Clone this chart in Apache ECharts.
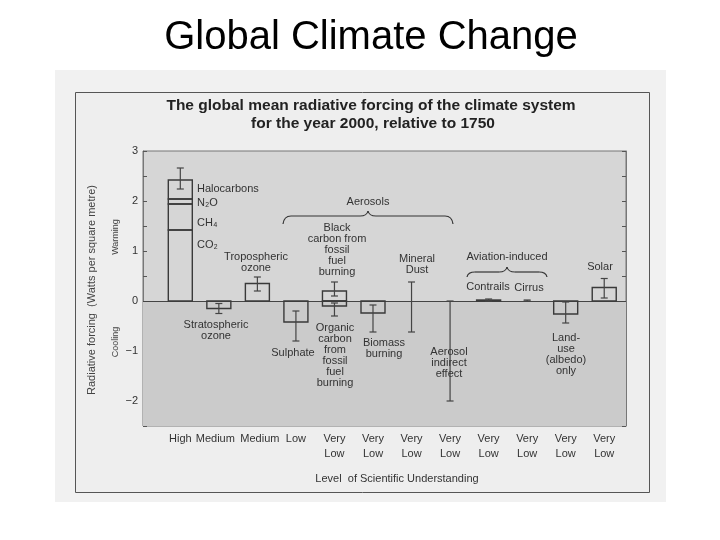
<!DOCTYPE html>
<html><head><meta charset="utf-8">
<script src="https://cdn.jsdelivr.net/npm/echarts@6/dist/echarts.min.js"></script>
<style>html,body{margin:0;padding:0;background:#fff}#c{width:720px;height:540px}</style>
</head><body><div id="c"></div>
<script>
// ---- data ----
const slots = ['Greenhouse gases','Stratospheric ozone','Tropospheric ozone','Sulphate','Fossil fuel carbon','Biomass burning','Mineral dust','Aerosol indirect effect','Contrails','Cirrus','Land-use','Solar'];
const levels = ['High','Medium','Medium','Low','Very\nLow','Very\nLow','Very\nLow','Very\nLow','Very\nLow','Very\nLow','Very\nLow','Very\nLow'];
const ghgNames = ['CO₂','CH₄','N₂O','Halocarbons'];
const ghgValues = [1.42, 0.52, 0.10, 0.38];
const barSlots = [1, 2, 3, 4, 4, 5, 8, 10, 11];
const barNames = ['Stratospheric ozone','Tropospheric ozone','Sulphate','Black carbon','Organic carbon','Biomass burning','Contrails','Land-use','Solar'];
const barValues = [-0.15, 0.35, -0.42, 0.20, -0.10, -0.24, 0.02, -0.26, 0.27];
const errSlots = [0, 1, 2, 3, 4, 4, 5, 6, 7, 8, 9, 10, 11];
const errLow  = [2.24, -0.25, 0.20, -0.80, 0.10, -0.30, -0.62, -0.62, -2.00, 0.00, 0.00, -0.44, 0.06];
const errHigh = [2.66, -0.05, 0.48, -0.20, 0.38, -0.04, -0.08, 0.38, 0.00, 0.04, 0.02, -0.02, 0.45];

// ---- build ----
let cum = 0;
const ghgData = ghgValues.map((v, k) => { const a = cum; cum += v; return { name: ghgNames[k], value: [0, a, cum] }; });
const barData = barValues.map((v, k) => ({ name: barNames[k], value: [barSlots[k], 0, v] }));
const errData = errSlots.map((s, k) => ({ name: slots[s], value: [s, errLow[k], errHigh[k]] }));

const BW = 24, INK = '#3a3a3a';
function rectItem(params, api) {
  const x = api.value(0);
  const p1 = api.coord([x, api.value(1)]), p2 = api.coord([x, api.value(2)]);
  return { type: 'rect', shape: { x: p1[0] - BW / 2, y: Math.min(p1[1], p2[1]), width: BW, height: Math.max(1, Math.abs(p1[1] - p2[1])) },
           style: { fill: 'none', stroke: INK, lineWidth: 1.4 } };
}
function errItem(params, api) {
  const x = api.value(0);
  const lo = api.coord([x, api.value(1)]), hi = api.coord([x, api.value(2)]);
  const c = 3.5, st = { stroke: '#444', lineWidth: 1.2 };
  return { type: 'group', children: [
    { type: 'line', shape: { x1: lo[0], y1: lo[1], x2: hi[0], y2: hi[1] }, style: st },
    { type: 'line', shape: { x1: lo[0] - c, y1: lo[1], x2: lo[0] + c, y2: lo[1] }, style: st },
    { type: 'line', shape: { x1: hi[0] - c, y1: hi[1], x2: hi[0] + c, y2: hi[1] }, style: st }
  ]};
}

const FONT = '"Liberation Sans", Arial, Helvetica, sans-serif';
function txt(x, y, text, opts) {
  opts = opts || {};
  return { type: 'text', x: x, y: y, z: 100, rotation: opts.rotation || 0,
    style: { text: text, fill: opts.fill || '#333', font: (opts.font || '11px') + ' ' + FONT,
             textAlign: opts.align || 'center', textVerticalAlign: 'middle', lineHeight: opts.lh || 11 } };
}
function brace(x1, xm, x2, yEnd, yBar, yTip) {
  const st = { fill: 'none', stroke: '#333', lineWidth: 1.2 };
  const r = 8;
  return { type: 'group', z: 100, children: [
    { type: 'bezierCurve', shape: { x1: x1, y1: yEnd, cpx1: x1 + 1, cpy1: yBar, x2: x1 + r, y2: yBar }, style: st },
    { type: 'line', shape: { x1: x1 + r, y1: yBar, x2: xm - r, y2: yBar }, style: st },
    { type: 'bezierCurve', shape: { x1: xm - r, y1: yBar, cpx1: xm - 1, cpy1: yBar, x2: xm, y2: yTip }, style: st },
    { type: 'bezierCurve', shape: { x1: xm, y1: yTip, cpx1: xm + 1, cpy1: yBar, x2: xm + r, y2: yBar }, style: st },
    { type: 'line', shape: { x1: xm + r, y1: yBar, x2: x2 - r, y2: yBar }, style: st },
    { type: 'bezierCurve', shape: { x1: x2 - r, y1: yBar, cpx1: x2 - 1, cpy1: yBar, x2: x2, y2: yEnd }, style: st }
  ]};
}
const annotations = [
  { type: 'rect', z: -10, shape: { x: 55, y: 70, width: 611, height: 432 }, style: { fill: '#f1f1f1' } },
  { type: 'rect', z: -9, shape: { x: 75.5, y: 92.5, width: 574, height: 400 }, style: { fill: '#eeeeee', stroke: '#555', lineWidth: 1 } },
  txt(371, 38, 'Global Climate Change', { font: '40px', fill: '#000' }),
  txt(371, 106, 'The global mean radiative forcing of the climate system', { font: 'bold 15.5px', fill: '#222' }),
  txt(373, 124, 'for the year 2000, relative to 1750', { font: 'bold 15.5px', fill: '#222' }),
  txt(92, 290, 'Radiative forcing  (Watts per square metre)', { rotation: Math.PI / 2, fill: '#444' }),
  txt(116, 237, 'Warming', { rotation: Math.PI / 2, font: '9px', fill: '#444' }),
  txt(116, 342, 'Cooling', { rotation: Math.PI / 2, font: '9px', fill: '#444' }),
  txt(397, 479, 'Level  of Scientific Understanding'),
  txt(197, 189, 'Halocarbons', { align: 'left' }),
  txt(197, 203, 'N₂O', { align: 'left' }),
  txt(197, 223, 'CH₄', { align: 'left' }),
  txt(197, 245, 'CO₂', { align: 'left' }),
  txt(256, 262, 'Tropospheric\nozone'),
  txt(368, 202, 'Aerosols'),
  txt(337, 250, 'Black\ncarbon from\nfossil\nfuel\nburning'),
  txt(417, 264, 'Mineral\nDust'),
  txt(507, 257, 'Aviation-induced'),
  txt(488, 287, 'Contrails'),
  txt(529, 288, 'Cirrus'),
  txt(600, 267, 'Solar'),
  txt(216, 330, 'Stratospheric\nozone'),
  txt(293, 353, 'Sulphate'),
  txt(335, 355, 'Organic\ncarbon\nfrom\nfossil\nfuel\nburning'),
  txt(384, 348, 'Biomass\nburning'),
  txt(449, 363, 'Aerosol\nindirect\neffect'),
  txt(566, 354, 'Land-\nuse\n(albedo)\nonly'),
  brace(283, 368, 453, 224, 216, 211),
  brace(467, 507, 547, 277, 272, 267)
];

const yAxisCommon = {
  type: 'value', min: -2.5, max: 3, interval: 0.5,
  splitLine: { show: false },
  axisLine: { show: true, onZero: false, lineStyle: { color: '#777' } },
  axisTick: { show: true, inside: true, length: 4, lineStyle: { color: '#555' } }
};

function levelLabel(v) {
  const i = Math.round(v);
  const t = levels[i] || '';
  if (i === 1) return '{l|' + t + '}';
  if (i === 2) return '{r|' + t + '}';
  return t;
}

const chart = echarts.init(document.getElementById('c'));
chart.setOption({
  backgroundColor: '#ffffff',
  animation: false,
  graphic: annotations,
  grid: { left: 143, right: 94, top: 151, bottom: 114, show: true, backgroundColor: '#d6d6d6', borderColor: '#777', borderWidth: 1 },
  xAxis: {
    type: 'value', min: -0.968, max: 11.565,
    axisLine: { show: false, onZero: false }, axisTick: { show: false }, splitLine: { show: false },
    axisLabel: { show: true, customValues: levels.map((l, i) => i), formatter: levelLabel,
                 color: '#333', fontSize: 11, fontFamily: FONT, lineHeight: 15, margin: 5,
                 rich: { l: { padding: [0, 7, 0, 0], fontSize: 11, fontFamily: FONT, color: '#333' },
                         r: { padding: [0, 0, 0, 5], fontSize: 11, fontFamily: FONT, color: '#333' } } }
  },
  yAxis: [
    Object.assign({}, yAxisCommon, { position: 'left',
      axisLabel: { color: '#333', fontSize: 11, fontFamily: FONT, margin: 5,
                   formatter: v => (Math.abs(v - Math.round(v)) < 1e-6 ? (v < 0 ? '\u2212' + Math.abs(v) : String(v)) : '') } }),
    Object.assign({}, yAxisCommon, { position: 'right', axisLabel: { show: false } })
  ],
  series: [
    { type: 'custom', name: 'Well-mixed greenhouse gases', renderItem: rectItem, data: ghgData, z: 5,
      markArea: { silent: true, itemStyle: { color: '#cbcbcb' }, data: [[{ yAxis: -2.5 }, { yAxis: 0 }]] } },
    { type: 'custom', name: 'Forcing agents', renderItem: rectItem, data: barData, z: 5,
      markLine: { silent: true, symbol: 'none', label: { show: false }, lineStyle: { color: '#444', width: 1.2, type: 'solid' }, data: [{ yAxis: 0 }] } },
    { type: 'custom', name: 'Uncertainty', renderItem: errItem, data: errData, z: 6 }
  ]
});
</script>
</body></html>
